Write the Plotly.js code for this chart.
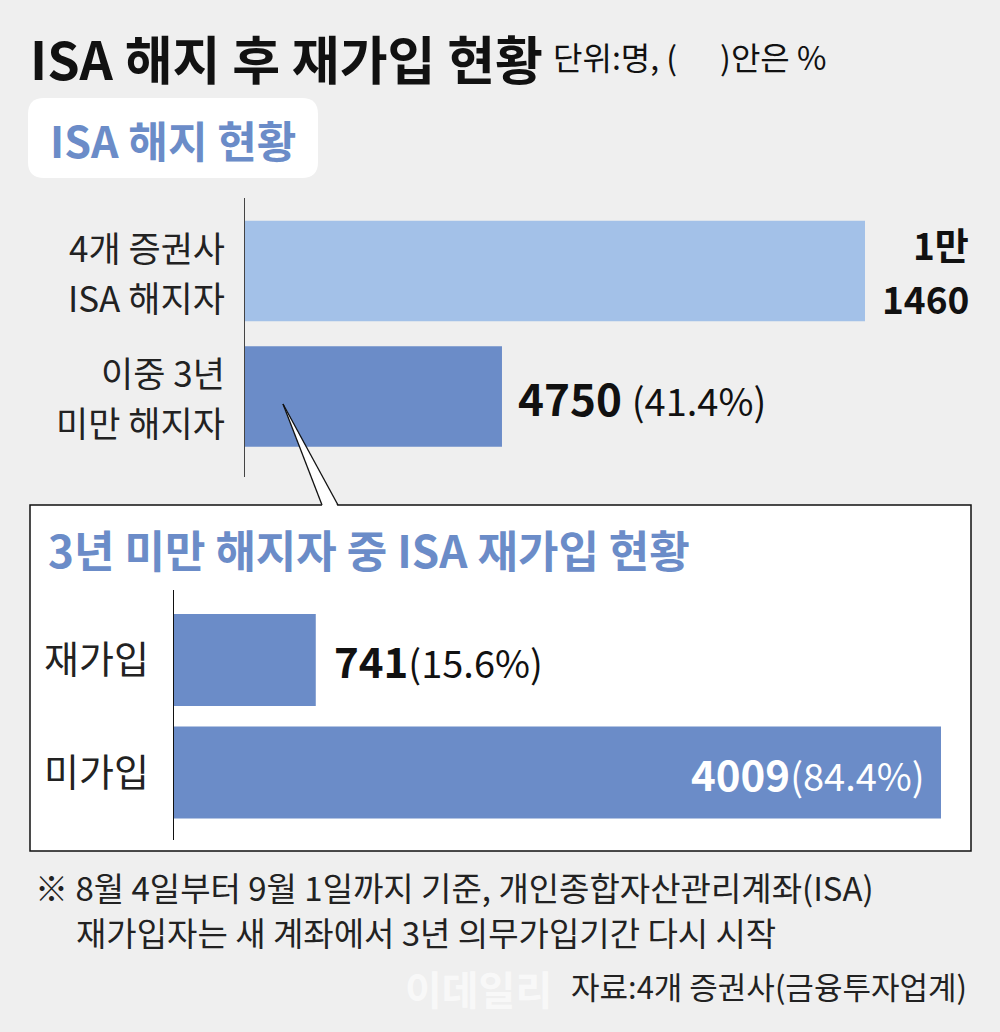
<!DOCTYPE html>
<html>
<head>
<meta charset="utf-8">
<script src="https://cdn.plot.ly/plotly-3.0.1.min.js"></script>
<style>
  html, body { margin: 0; padding: 0; background: #efefef; }
  #chart { width: 1000px; height: 1032px; }
</style>
</head>
<body>
<div id="chart"></div>
<script>
// ---- data ----
const topCategoryLines = [['4개 증권사', 'ISA 해지자'], ['이중 3년', '미만 해지자']];
const topCategories = topCategoryLines.map(l => l.join(' '));
const topValues = [11460, 4750];
const topShares = [null, 41.4];
const subCategories = ['재가입', '미가입'];
const subValues = [741, 4009];
const subShares = [15.6, 84.4];

const titleText = 'ISA 해지 후 재가입 현황';
const unitText = '단위:명, (\u00a0\u00a0\u00a0\u00a0\u00a0\u00a0)안은 %';
const topPanelTitle = 'ISA 해지 현황';
const subPanelTitle = '3년 미만 해지자 중 ISA 재가입 현황';
const noteLine1 = '※ 8월 4일부터 9월 1일까지 기준, 개인종합자산관리계좌(ISA)';
const noteLine2 = '재가입자는 새 계좌에서 3년 의무가입기간 다시 시작';
const sourceText = '자료:4개 증권사(금융투자업계)';
const watermark = '이데일리';

// ---- helpers ----
const W = 1000, H = 1032;
const px = x => x / W;
const py = y => 1 - y / H;
const FONT = '"Noto Sans CJK KR", "Noto Sans", sans-serif';
const BLUE = '#6b8cc8';
const LIGHT = '#a3c1e8';

function roundedRect(x0, y0, x1, y1, r) {
  const rx = r / W, ry = r / H;
  const X0 = px(x0), X1 = px(x1), Y0 = py(y0), Y1 = py(y1);
  return `M ${X0 + rx} ${Y0} L ${X1 - rx} ${Y0} Q ${X1} ${Y0} ${X1} ${Y0 - ry} ` +
         `L ${X1} ${Y1 + ry} Q ${X1} ${Y1} ${X1 - rx} ${Y1} ` +
         `L ${X0 + rx} ${Y1} Q ${X0} ${Y1} ${X0} ${Y1 + ry} ` +
         `L ${X0} ${Y0 - ry} Q ${X0} ${Y0} ${X0 + rx} ${Y0} Z`;
}

function koreanNumberParts(v) {
  const man = Math.floor(v / 10000);
  const rest = v % 10000;
  return man > 0 ? [`${man}만`, `${rest}`] : [`${v}`];
}

// ---- traces ----
const traces = [
  {
    type: 'bar', orientation: 'h',
    y: topCategories, x: topValues,
    marker: { color: [LIGHT, BLUE] },
    width: 0.8,
    xaxis: 'x', yaxis: 'y',
    hoverinfo: 'none'
  },
  {
    type: 'bar', orientation: 'h',
    y: subCategories, x: subValues,
    marker: { color: BLUE },
    width: 0.818,
    xaxis: 'x2', yaxis: 'y2',
    hoverinfo: 'none'
  }
];

// ---- annotations ----
const annotations = [
  { xref: 'paper', yref: 'paper', x: px(28), y: py(58), xanchor: 'left', yanchor: 'middle',
    text: `<b>${titleText}</b>`, showarrow: false, font: { family: FONT, size: 52, color: '#111' } },
  { xref: 'paper', yref: 'paper', x: px(551), y: py(56), xanchor: 'left', yanchor: 'middle',
    text: unitText, showarrow: false, font: { family: FONT, size: 32, color: '#111' } },
  { xref: 'paper', yref: 'paper', x: px(48), y: py(139), xanchor: 'left', yanchor: 'middle',
    text: `<b>${topPanelTitle}</b>`, showarrow: false, font: { family: FONT, size: 43, color: BLUE } },
  { xref: 'paper', yref: 'paper', x: px(46), y: py(549), xanchor: 'left', yanchor: 'middle',
    text: `<b>${subPanelTitle}</b>`, showarrow: false, font: { family: FONT, size: 44, color: BLUE } },
  // value labels, sub chart
  { xref: 'x2', yref: 'y2', x: subValues[0], y: subCategories[0], xanchor: 'left', yanchor: 'middle',
    xshift: 16, text: `<b>${subValues[0]}</b><span style="font-size:38px">(${subShares[0]}%)</span>`, showarrow: false,
    font: { family: FONT, size: 42, color: '#111' } },
  { xref: 'x2', yref: 'y2', x: subValues[1], y: subCategories[1], xanchor: 'right', yanchor: 'middle',
    xshift: -14, text: `<b>${subValues[1]}</b><span style="font-size:38px">(${subShares[1]}%)</span>`, showarrow: false,
    font: { family: FONT, size: 42, color: '#ffffff' } },
  // value label, second top bar
  { xref: 'x', yref: 'y', x: topValues[1], y: topCategories[1], xanchor: 'left', yanchor: 'middle',
    xshift: 14, text: `<b>${topValues[1]}</b> <span style="font-size:38px">(${topShares[1]}%)</span>`, showarrow: false,
    font: { family: FONT, size: 44, color: '#111' } },
  // notes
  { xref: 'paper', yref: 'paper', x: px(33), y: py(887), xanchor: 'left', yanchor: 'middle',
    text: noteLine1, showarrow: false, font: { family: FONT, size: 33, color: '#222' } },
  { xref: 'paper', yref: 'paper', x: px(74), y: py(932), xanchor: 'left', yanchor: 'middle',
    text: noteLine2, showarrow: false, font: { family: FONT, size: 33, color: '#222' } },
  { xref: 'paper', yref: 'paper', x: px(478), y: py(988), xanchor: 'center', yanchor: 'middle',
    text: `<b>${watermark}</b>`, showarrow: false, font: { family: FONT, size: 40, color: 'rgba(255,255,255,0.6)' } },
  { xref: 'paper', yref: 'paper', x: px(969), y: py(985), xanchor: 'right', yanchor: 'middle',
    text: sourceText, showarrow: false, font: { family: FONT, size: 31, color: '#222' } }
];

// first top bar value: "1만" / "1460" as two stacked lines
const bigParts = koreanNumberParts(topValues[0]);
bigParts.forEach((t, i) => {
  annotations.push({
    xref: 'x', yref: 'y', x: topValues[0], y: topCategories[0],
    xanchor: 'right', yanchor: 'middle', xshift: 106, yshift: 27 - i * 54,
    text: `<b>${t}</b>`, showarrow: false, font: { family: FONT, size: 37, color: '#111' }
  });
});

// top category labels, two lines each
topCategoryLines.forEach((lines, c) => {
  lines.forEach((t, i) => {
    annotations.push({
      xref: 'paper', yref: 'y', x: px(227), y: topCategories[c],
      xanchor: 'right', yanchor: 'middle', yshift: 25 - i * 50,
      text: t, showarrow: false, font: { family: FONT, size: 35, color: '#222' }
    });
  });
});

// ---- shapes ----
const shapes = [
  { type: 'path', xref: 'paper', yref: 'paper', layer: 'below',
    path: roundedRect(28, 98, 318, 178, 16), fillcolor: '#ffffff', line: { width: 0 } },
  { type: 'rect', xref: 'paper', yref: 'paper', layer: 'below',
    x0: px(30), x1: px(971), y0: py(505), y1: py(851),
    fillcolor: '#ffffff', line: { color: '#111', width: 1.5 } },
  // callout wedge (white fill over bar and box border)
  { type: 'path', xref: 'paper', yref: 'paper', layer: 'above',
    path: `M ${px(283)} ${py(404)} L ${px(322.5)} ${py(507)} L ${px(338)} ${py(507)} Z`,
    fillcolor: '#ffffff', line: { width: 0 } },
  { type: 'line', xref: 'paper', yref: 'paper', layer: 'above',
    x0: px(283), y0: py(404), x1: px(322), y1: py(505), line: { color: '#111', width: 1.3 } },
  { type: 'line', xref: 'paper', yref: 'paper', layer: 'above',
    x0: px(283), y0: py(404), x1: px(338), y1: py(505), line: { color: '#111', width: 1.3 } }
];

const layout = {
  width: W, height: H,
  margin: { l: 0, r: 0, t: 0, b: 0 },
  paper_bgcolor: '#efefef',
  plot_bgcolor: 'rgba(0,0,0,0)',
  showlegend: false,
  font: { family: FONT },
  xaxis: { domain: [px(245), px(865)], range: [0, topValues[0]], visible: false, fixedrange: true, anchor: 'y' },
  yaxis: {
    domain: [py(477), py(198)], type: 'category', range: [1.641, -0.582],
    showline: true, linecolor: '#444', linewidth: 1.5, ticks: '', showgrid: false, zeroline: false,
    showticklabels: false, fixedrange: true, anchor: 'x'
  },
  xaxis2: { domain: [px(174), px(941)], range: [0, subValues[1]], visible: false, fixedrange: true, anchor: 'y2' },
  yaxis2: {
    domain: [py(840), py(590)], type: 'category', range: [1.6, -0.622],
    showline: true, linecolor: '#111', linewidth: 1.5, ticks: '', showgrid: false, zeroline: false,
    tickfont: { family: FONT, size: 38, color: '#222' }, ticklabelstandoff: 16, fixedrange: true, anchor: 'x2'
  },
  annotations: annotations,
  shapes: shapes
};

Plotly.newPlot('chart', traces, layout, { displayModeBar: false, staticPlot: true });
</script>
</body>
</html>
